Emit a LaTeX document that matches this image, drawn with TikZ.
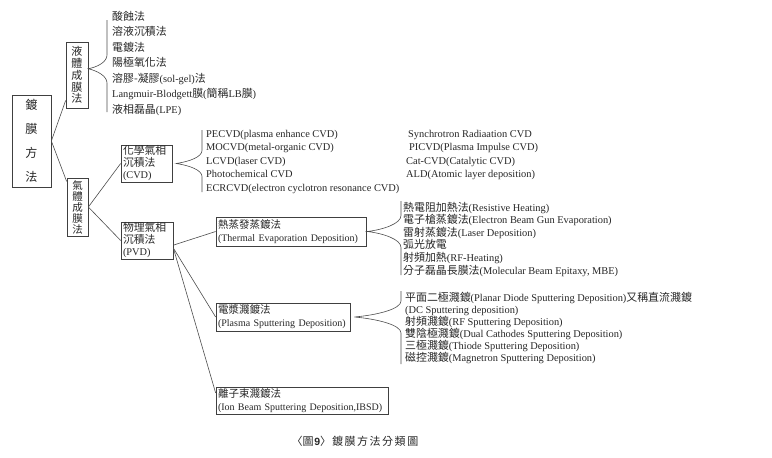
\documentclass[tikz,border=0pt]{standalone}
\usepackage{fontspec}
\setmainfont{Liberation Serif}
\newfontfamily\cjk{Noto Sans CJK TC}[Scale=1.05]
\newfontfamily\capsans{Liberation Sans}
\newcommand\zh[1]{{\cjk #1}}
\lineskiplimit=-100pt
\lineskip=0pt
% brace: #1 tip anchor, #2 #3 tip x y, #4 vertical x, #5 top, #6 bottom, #7 arm height
\newcommand\brc[7]{\draw[brace] (#4,#5) -- (#4,{#3-#7}) .. controls (#4,{#3-#7/2}) and ({#2+0.5*(#4-#2)},{#3-2}) .. (#1) .. controls ({#2+0.5*(#4-#2)},{#3+2}) and (#4,{#3+#7/2}) .. (#4,{#3+#7}) -- (#4,#6);}
\begin{document}
\begin{tikzpicture}[x=1pt,y=-1pt,
  every node/.style={text=black!85},
  box/.style={draw=black!75, line width=0.7pt, inner xsep=2pt, inner ysep=0pt, align=left},
  vbox/.style={draw=black!75, line width=0.7pt, inner sep=0pt, align=center},
  item/.style={anchor=base west, inner sep=0pt, font=\fontsize{10.4}{12}\selectfont},
  link/.style={draw=black!70, line width=0.6pt},
  brace/.style={draw=black!70, line width=0.6pt},
]
\useasboundingbox (0,0) rectangle (772,458);

% main boxes
\node[vbox, minimum width=39pt, minimum height=92pt, font=\fontsize{11.5}{24}\cjk] (root) at (31.5,141) {鍍\\膜\\方\\法};
\node[vbox, minimum width=22pt, minimum height=66pt, font=\fontsize{10.5}{11.8}\cjk] (liq) at (77,75) {液\\體\\成\\膜\\法};
\node[vbox, minimum width=21pt, minimum height=58pt, font=\fontsize{10}{11}\cjk] (gas) at (77.5,207) {氣\\體\\成\\膜\\法};
\node[box, minimum width=51pt, minimum height=37pt, text width=47pt, font=\fontsize{10.3}{12}\selectfont] (cvd) at (146.5,163.5) {\mbox{\zh{化學氣相}}\\\mbox{\zh{沉積法}}\\(CVD)};
\node[box, minimum width=52pt, minimum height=37pt, text width=48pt, font=\fontsize{10.3}{12}\selectfont] (pvd) at (147,240.5) {\mbox{\zh{物理氣相}}\\\mbox{\zh{沉積法}}\\(PVD)};
\node[box, minimum width=150pt, minimum height=29pt, text width=146pt, font=\fontsize{10}{13}\selectfont] (therm) at (291,231.5) {\mbox{\zh{熱蒸發蒸鍍法}}\\\mbox{(Thermal Evaporation Deposition)}};
\node[box, minimum width=134pt, minimum height=28pt, text width=130pt, font=\fontsize{10}{13}\selectfont] (plas) at (283,317) {\mbox{\zh{電漿濺鍍法}}\\\mbox{(Plasma Sputtering Deposition)}};
\node[box, minimum width=172pt, minimum height=27pt, text width=168pt, font=\fontsize{10}{13}\selectfont] (ion) at (302,400.5) {\mbox{\zh{離子束濺鍍法}}\\\mbox{(Ion Beam Sputtering Deposition,IBSD)}};

% connectors
\draw[link] (root.east) -- (liq.246);
\draw[link] (root.east) -- (gas.113);
\draw[link] (gas.east) -- (cvd.west);
\draw[link] (gas.east) -- (pvd.west);
\draw[link] (pvd.-10) -- (therm.west);
\draw[link] (pvd.-16) -- (plas.west);
\draw[link] (pvd.-16) -- (ion.175);

% braces
\brc{liq.29}{88}{69}{107}{20}{112}{14}
\brc{[xshift=4pt]cvd.east}{176.5}{163.5}{202}{130}{192}{13}
\brc{[xshift=1pt]therm.east}{367}{231.5}{401}{201}{275}{16}
\brc{[xshift=4pt]plas.east}{354}{317}{401}{291}{364}{16}

% liquid list
\foreach \t [count=\i from 0] in {{\zh{酸蝕法}},{\zh{溶液沉積法}},{\zh{電鍍法}},{\zh{陽極氧化法}},{\zh{溶膠-凝膠}(sol-gel)\zh{法}},{Langmuir-Blodgett\zh{膜}(\zh{簡稱}LB\zh{膜})},{\zh{液相磊晶}(LPE)}}
  \node[item] (liqi\i) at (112,{20+15.5*\i}) {\t};

% CVD list
\foreach \t [count=\i from 0] in {{PECVD(plasma enhance CVD)},{MOCVD(metal-organic CVD)},{LCVD(laser CVD)},{Photochemical CVD},{ECRCVD(electron cyclotron resonance CVD)}}
  \node[item] (cvdi\i) at (206,{137+13.5*\i}) {\t};
\node[item] (cvdj0) at (408,137) {Synchrotron Radiaation CVD};
\node[item] (cvdj1) at (409,150.5) {PICVD(Plasma Impulse CVD)};
\node[item] (cvdj2) at (406,164) {Cat-CVD(Catalytic CVD)};
\node[item] (cvdj3) at (406,177.5) {ALD(Atomic layer deposition)};

% thermal list
\foreach \t [count=\i from 0] in {{\zh{熱電阻加熱法}(Resistive Heating)},{\zh{電子槍蒸鍍法}(Electron Beam Gun Evaporation)},{\zh{雷射蒸鍍法}(Laser Deposition)},{\zh{弧光放電}},{\zh{射頻加熱}(RF-Heating)},{\zh{分子磊晶長膜法}(Molecular Beam Epitaxy, MBE)}}
  \node[item] (thi\i) at (403,{211+12.6*\i}) {\t};

% plasma list
\foreach \t [count=\i from 0] in {{\zh{平面二極濺鍍}(Planar Diode Sputtering Deposition)\zh{又稱直流濺鍍}},{(DC Sputtering deposition)},{\zh{射頻濺鍍}(RF Sputtering Deposition)},{\zh{雙陰極濺鍍}(Dual Cathodes Sputtering Deposition)},{\zh{三極濺鍍}(Thiode Sputtering Deposition)},{\zh{磁控濺鍍}(Magnetron Sputtering Deposition)}}
  \node[item] (pli\i) at (405,{301+12*\i}) {\t};

% caption
\node[inner sep=0pt, font=\fontsize{10.5}{12}\selectfont] (cap) at (355,441) {\zh{〈圖}\hspace{0.5pt}{\capsans\bfseries 9}\zh{〉\hspace{1pt}鍍\hspace{1.5pt}膜\hspace{1.5pt}方\hspace{1.5pt}法\hspace{1.5pt}分\hspace{1.5pt}類\hspace{1.5pt}圖}};
\end{tikzpicture}
\end{document}
